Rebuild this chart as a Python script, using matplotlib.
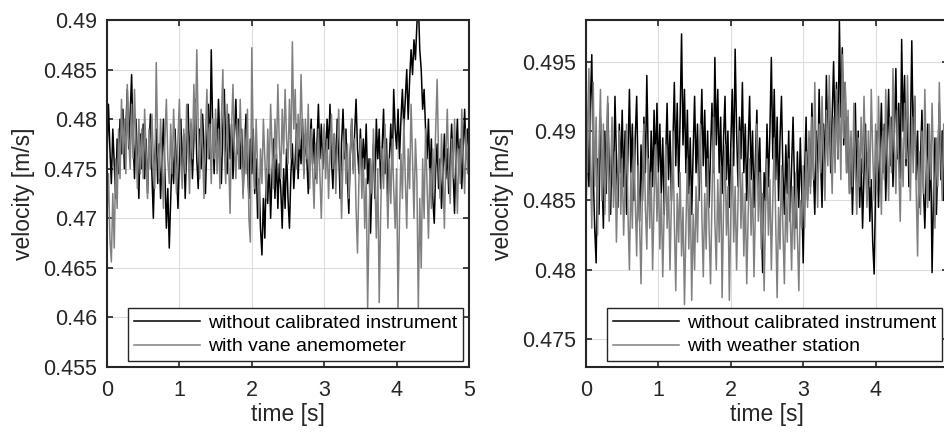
import numpy as np
import matplotlib
matplotlib.use("Agg")
import matplotlib.pyplot as plt
from matplotlib.ticker import FuncFormatter

plt.rcParams['font.family'] = ['Liberation Sans', 'DejaVu Sans']

# time axis [s]
t = np.linspace(0, 5, 251)

# values in units of 1e-4 m/s
left_without = [
 4760, 4815, 4770, 4735, 4790, 4755, 4720, 4780, 4745, 4800, 4765, 4810, 4750, 4790, 4830, 4770, 4805, 4845, 4780, 4740, 4800, 4760, 4720, 4785, 4750,
 4795, 4740, 4780, 4725, 4770, 4805, 4745, 4700, 4760, 4790, 4735, 4775, 4720, 4760, 4800, 4745, 4690, 4730, 4670, 4720, 4765, 4735, 4790, 4750, 4710,
 4760, 4800, 4745, 4785, 4720, 4770, 4815, 4755, 4795, 4740, 4780, 4820, 4760, 4730, 4790, 4750, 4805, 4770, 4725, 4780, 4815, 4760, 4870, 4790, 4745,
 4800, 4765, 4820, 4775, 4735, 4790, 4830, 4770, 4745, 4805, 4760, 4795, 4740, 4785, 4820, 4765, 4800, 4750, 4790, 4725, 4770, 4805, 4755, 4720, 4780,
 4745, 4790, 4725, 4760, 4700, 4740, 4690, 4663, 4720, 4680, 4750, 4715, 4760, 4700, 4745, 4780, 4720, 4765, 4710, 4755, 4730, 4690, 4750, 4710, 4770,
 4720, 4690, 4745, 4775, 4730, 4760, 4795, 4740, 4780, 4755, 4800, 4745, 4785, 4760, 4725, 4770, 4800, 4755, 4790, 4740, 4775, 4815, 4760, 4795, 4750,
 4790, 4755, 4800, 4770, 4815, 4760, 4730, 4785, 4745, 4800, 4770, 4720, 4775, 4810, 4760, 4790, 4740, 4705, 4765, 4800, 4750, 4785, 4820, 4770, 4745,
 4790, 4745, 4780, 4750, 4795, 4735, 4760, 4685, 4740, 4775, 4720, 4800, 4760, 4790, 4730, 4770, 4810, 4745, 4780, 4715, 4760, 4795, 4750, 4830, 4790,
 4770, 4810, 4760, 4800, 4830, 4790, 4820, 4850, 4800, 4840, 4870, 4845, 4880, 4860, 4895, 4920, 4870, 4850, 4810, 4830, 4790, 4760, 4800, 4740, 4780,
 4720, 4695, 4750, 4775, 4730, 4760, 4710, 4745, 4785, 4740, 4770, 4725, 4760, 4795, 4750, 4705, 4765, 4800, 4745, 4780, 4730, 4770, 4810, 4760, 4790, 4770]

left_vane = [
 4700, 4745, 4680, 4656, 4725, 4670, 4760, 4710, 4790, 4740, 4820, 4765, 4800, 4745, 4835, 4780, 4750, 4815, 4760, 4830, 4775, 4730, 4800, 4745, 4790,
 4740, 4810, 4765, 4720, 4790, 4750, 4805, 4760, 4730, 4857, 4775, 4740, 4800, 4755, 4710, 4780, 4820, 4760, 4735, 4795, 4745, 4810, 4765, 4725, 4780,
 4820, 4755, 4730, 4790, 4745, 4815, 4770, 4725, 4800, 4760, 4835, 4780, 4870, 4790, 4740, 4810, 4765, 4720, 4785, 4830, 4760, 4795, 4735, 4800, 4760,
 4810, 4745, 4790, 4730, 4800, 4850, 4770, 4735, 4815, 4760, 4705, 4790, 4835, 4770, 4740, 4800, 4750, 4820, 4765, 4720, 4790, 4745, 4810, 4700, 4676,
 4872, 4770, 4730, 4800, 4750, 4700, 4770, 4735, 4800, 4760, 4720, 4790, 4745, 4815, 4770, 4730, 4800, 4760, 4835, 4775, 4740, 4810, 4765, 4830, 4780,
 4755, 4820, 4760, 4878, 4790, 4830, 4750, 4805, 4770, 4845, 4785, 4740, 4800, 4760, 4815, 4730, 4790, 4750, 4710, 4775, 4735, 4790, 4745, 4700, 4760,
 4795, 4740, 4780, 4720, 4765, 4805, 4750, 4785, 4725, 4770, 4810, 4755, 4700, 4760, 4790, 4735, 4775, 4720, 4765, 4800, 4745, 4780, 4710, 4665, 4740,
 4780, 4720, 4760, 4690, 4740, 4610, 4700, 4760, 4725, 4790, 4740, 4680, 4750, 4615, 4705, 4770, 4730, 4795, 4745, 4690, 4760, 4715, 4780, 4730, 4690,
 4750, 4610, 4700, 4765, 4720, 4800, 4740, 4690, 4770, 4730, 4815, 4760, 4700, 4780, 4740, 4610, 4720, 4650, 4760, 4700, 4790, 4735, 4680, 4750, 4710,
 4770, 4730, 4790, 4840, 4760, 4720, 4785, 4745, 4690, 4760, 4810, 4750, 4715, 4780, 4740, 4800, 4755, 4705, 4770, 4735, 4810, 4760, 4725, 4790, 4745, 4780]

right_without = [
 4840, 4900, 4860, 4920, 4955, 4870, 4830, 4805, 4880, 4840, 4910, 4870, 4830, 4900, 4855, 4920, 4875, 4840, 4895, 4860, 4925, 4880, 4845, 4905, 4870,
 4915, 4860, 4900, 4840, 4885, 4930, 4870, 4905, 4850, 4895, 4925, 4865, 4835, 4890, 4850, 4910, 4870, 4940, 4880, 4845, 4900, 4860, 4915, 4875, 4920,
 4870, 4905, 4855, 4895, 4840, 4880, 4920, 4865, 4900, 4850, 4890, 4935, 4875, 4920, 4860, 4910, 4970, 4890, 4930, 4870, 4915, 4855, 4895, 4840, 4885,
 4925, 4870, 4905, 4850, 4890, 4930, 4875, 4915, 4860, 4900, 4845, 4885, 4920, 4870, 4953, 4890, 4930, 4870, 4910, 4855, 4895, 4925, 4865, 4900, 4845,
 4890, 4930, 4875, 4959, 4900, 4860, 4910, 4880, 4935, 4870, 4905, 4850, 4890, 4925, 4865, 4900, 4845, 4880, 4915, 4860, 4895, 4840, 4798, 4870, 4850,
 4905, 4860, 4900, 4953, 4880, 4930, 4865, 4910, 4850, 4895, 4925, 4870, 4840, 4890, 4855, 4900, 4835, 4875, 4910, 4860, 4830, 4885, 4845, 4895, 4855,
 4805, 4870, 4910, 4850, 4895, 4860, 4920, 4875, 4840, 4900, 4865, 4930, 4880, 4845, 4905, 4870, 4940, 4890, 4925, 4870, 4910, 4950, 4895, 4935, 4880,
 4979, 4910, 4960, 4890, 4935, 4870, 4910, 4855, 4895, 4840, 4880, 4920, 4860, 4900, 4845, 4880, 4830, 4870, 4905, 4850, 4885, 4835, 4865, 4820, 4797,
 4860, 4900, 4845, 4885, 4920, 4870, 4905, 4850, 4890, 4930, 4875, 4910, 4860, 4900, 4945, 4880, 4920, 4866, 4966, 4900, 4940, 4875, 4915, 4860, 4895,
 4965, 4890, 4925, 4865, 4900, 4845, 4880, 4915, 4860, 4830, 4870, 4905, 4850, 4890, 4798, 4855, 4895, 4840, 4880, 4920, 4865, 4900, 4850, 4885, 4860, 4880]

right_weather = [
 4955, 4870, 4945, 4880, 4830, 4935, 4860, 4910, 4825, 4890, 4930, 4850, 4905, 4840, 4880, 4925, 4835, 4870, 4910, 4845, 4885, 4820, 4865, 4900, 4840,
 4880, 4825, 4865, 4905, 4840, 4800, 4870, 4830, 4895, 4850, 4810, 4875, 4835, 4790, 4860, 4905, 4845, 4815, 4880, 4830, 4870, 4800, 4850, 4890, 4835,
 4870, 4815, 4855, 4795, 4845, 4890, 4830, 4860, 4800, 4850, 4900, 4835, 4785, 4855, 4820, 4870, 4810, 4845, 4775, 4830, 4880, 4815, 4860, 4778, 4840,
 4800, 4860, 4820, 4870, 4905, 4840, 4795, 4855, 4815, 4880, 4830, 4790, 4850, 4910, 4835, 4800, 4865, 4820, 4875, 4780, 4845, 4890, 4825, 4860, 4778,
 4840, 4885, 4820, 4860, 4800, 4850, 4900, 4830, 4870, 4810, 4855, 4790, 4840, 4880, 4825, 4865, 4795, 4845, 4905, 4835, 4870, 4815, 4855, 4785, 4840,
 4880, 4825, 4865, 4800, 4850, 4895, 4835, 4780, 4845, 4815, 4875, 4830, 4790, 4855, 4820, 4880, 4840, 4800, 4860, 4815, 4870, 4825, 4785, 4850, 4830,
 4875, 4830, 4885, 4845, 4900, 4855, 4910, 4865, 4935, 4880, 4845, 4905, 4870, 4925, 4885, 4850, 4915, 4875, 4940, 4890, 4855, 4910, 4870, 4930, 4880,
 4920, 4865, 4955, 4895, 4935, 4870, 4915, 4855, 4900, 4860, 4920, 4875, 4840, 4895, 4860, 4910, 4870, 4925, 4880, 4845, 4900, 4860, 4930, 4885, 4850,
 4905, 4860, 4925, 4880, 4840, 4900, 4865, 4930, 4885, 4850, 4910, 4870, 4945, 4890, 4855, 4915, 4875, 4835, 4895, 4860, 4920, 4880, 4940, 4890, 4850,
 4910, 4870, 4925, 4860, 4810, 4885, 4840, 4900, 4855, 4930, 4880, 4845, 4905, 4865, 4920, 4875, 4830, 4895, 4860, 4935, 4885, 4850, 4905, 4870, 4915, 4880]

scale = 1e-4
x_ticks = [0, 1, 2, 3, 4, 5]
x_ticklabels_left = ['0', '1', '2', '3', '4', '5']
x_ticklabels_right = ['0', '1', '2', '3', '4', '']   # '5' falls outside the picture
left_yticks = [0.455, 0.46, 0.465, 0.47, 0.475, 0.48, 0.485, 0.49]
right_yticks = [0.475, 0.48, 0.485, 0.49, 0.495]
labels_left = ['without calibrated instrument', 'with vane anemometer']
labels_right = ['without calibrated instrument', 'with weather station']

W, H = 945, 432
fig = plt.figure(figsize=(W / 100, H / 100), dpi=100)

ax1 = fig.add_axes([107 / W, (H - 367) / H, 362 / W, 347 / H])
ax2 = fig.add_axes([586 / W, (H - 367) / H, 362 / W, 347 / H])

gray = '#808080'
txt = '#262626'
fmt = FuncFormatter(lambda v, p: ('%g' % round(v, 4)))

def style(ax, yticks, ylim, xlabels):
    ax.set_xlim(0, 5)
    ax.set_ylim(*ylim)
    ax.set_xticks(x_ticks)
    ax.set_xticklabels(xlabels)
    ax.set_yticks(yticks)
    ax.yaxis.set_major_formatter(fmt)
    ax.grid(True, color='#dcdcdc', linewidth=0.8)
    ax.set_axisbelow(True)
    for s in ax.spines.values():
        s.set_linewidth(1.5)
        s.set_color(txt)
    ax.tick_params(direction='in', length=4, width=1.2, top=True, right=True,
                   labelsize=15.5, colors=txt)
    ax.tick_params(axis='x', pad=9)
    ax.tick_params(axis='y', pad=7)
    ax.set_xlabel('time [s]', fontsize=16.5, color=txt, labelpad=2)
    ax.set_ylabel('velocity [m/s]', fontsize=16.5, color=txt, labelpad=6)

ax1.plot(t, np.array(left_without) * scale, color='k', lw=1.1, label=labels_left[0])
ax1.plot(t, np.array(left_vane) * scale, color=gray, lw=1.1, label=labels_left[1])
style(ax1, left_yticks, (0.455, 0.49), x_ticklabels_left)

ax2.plot(t, np.array(right_without) * scale, color='k', lw=1.1, label=labels_right[0])
ax2.plot(t, np.array(right_weather) * scale, color=gray, lw=1.1, label=labels_right[1])
style(ax2, right_yticks, (0.473, 0.498), x_ticklabels_right)

for ax in (ax1, ax2):
    leg = ax.legend(loc='lower right', fontsize=14, fancybox=False, framealpha=1,
                    edgecolor=txt, handlelength=3.4, borderpad=0.3,
                    labelspacing=0.3, handletextpad=0.4, borderaxespad=0.3)
    leg.get_frame().set_linewidth(1.0)
    for tx in leg.get_texts():
        tx.set_color('k')

fig.savefig('out.png', dpi=100)
